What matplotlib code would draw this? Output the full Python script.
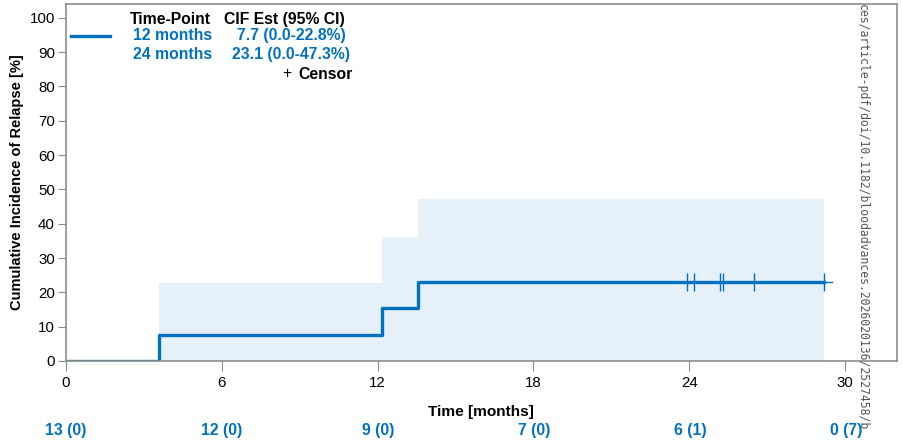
import matplotlib.pyplot as plt
import numpy as np

plt.rcParams['font.family'] = ['Liberation Sans', 'DejaVu Sans']

blue = '#0070C0'
band = '#E6F0F8'
grey = '#8C8C8C'

# step curve (time in months, CIF in %)
event_t = [0, 3.6, 12.15, 13.55, 29.2]
cif = [0, 7.7, 15.4, 23.1, 23.1]
ci_low = [0, 0, 0, 0, 0]
ci_up = [0, 22.8, 36.0, 47.3, 47.3]
censor_t = [23.9, 24.2, 25.2, 25.3, 26.5, 29.2]
censor_y = [23.1, 23.1, 23.1, 23.1, 23.1, 23.1]

risk_t = [0, 6, 12, 18, 24, 30]
risk_lab = ['13 (0)', '12 (0)', '9 (0)', '7 (0)', '6 (1)', '0 (7)']

fs = 11.3

fig = plt.figure(figsize=(9.03, 4.47), dpi=100)
ax = fig.add_axes([66/903, 1-361/447, 831/903, 357/447])

ax.fill_between(event_t, ci_low, ci_up, step='post', color=band, lw=0)
ax.step(event_t, cif, where='post', color=blue, lw=2.4)
ax.plot([29.2, 29.5], [23.1, 23.1], color=blue, lw=1)
ax.plot(censor_t, censor_y, ls='none', marker='|', ms=13, mew=1, color=blue)

ax.set_xlim(0, 32)
ax.set_ylim(0, 104)
ax.set_xticks(range(0, 31, 6))
ax.set_yticks(range(0, 101, 10))
ax.tick_params(axis='x', length=7, color=grey, labelsize=10.8, pad=4)
ax.tick_params(axis='y', length=6, color=grey, labelsize=10.8, pad=2)
for s in ax.spines.values():
    s.set_color(grey)
    s.set_linewidth(1.2)

ax.set_ylabel('Cumulative Incidence of Relapse [%]', fontsize=10.5,
              fontweight='bold', labelpad=4)

# legend block
ax.plot([0.2, 1.7], [94.7, 94.7], color=blue, lw=2.4)
ax.text(2.45, 99.6, 'Time-Point', fontsize=fs, fontweight='bold', va='center')
ax.text(6.08, 99.6, 'CIF Est (95% CI)', fontsize=fs, fontweight='bold', va='center')
ax.text(5.62, 94.7, '12 months', fontsize=fs, fontweight='bold', color=blue,
        va='center', ha='right')
ax.text(10.77, 94.7, '7.7 (0.0-22.8%)', fontsize=fs, fontweight='bold', color=blue,
        va='center', ha='right')
ax.text(5.62, 89.4, '24 months', fontsize=fs, fontweight='bold', color=blue,
        va='center', ha='right')
ax.text(10.92, 89.4, '23.1 (0.0-47.3%)', fontsize=fs, fontweight='bold', color=blue,
        va='center', ha='right')
ax.text(8.5, 83.8, '+', fontsize=fs, va='center', ha='center')
ax.text(11.05, 83.6, 'Censor', fontsize=fs, fontweight='bold', va='center', ha='right')

fig.text(481/903, 1-412/447, 'Time [months]', fontsize=11.1, fontweight='bold',
         ha='center', va='center')

# number at risk
for t, lab in zip(risk_t, risk_lab):
    xf = (66 + t*26)/903
    fig.text(xf, 1-431/447, lab, fontsize=fs, fontweight='bold', color=blue,
             ha='center', va='center')

fig.text(862/903, 0.99, 'ces/article-pdf/doi/10.1182/bloodadvances.2026020136/2527458/b',
         family='DejaVu Sans Mono', fontsize=8.3, color='#555555', rotation=270,
         ha='center', va='top')

fig.savefig('out.png', dpi=100)
